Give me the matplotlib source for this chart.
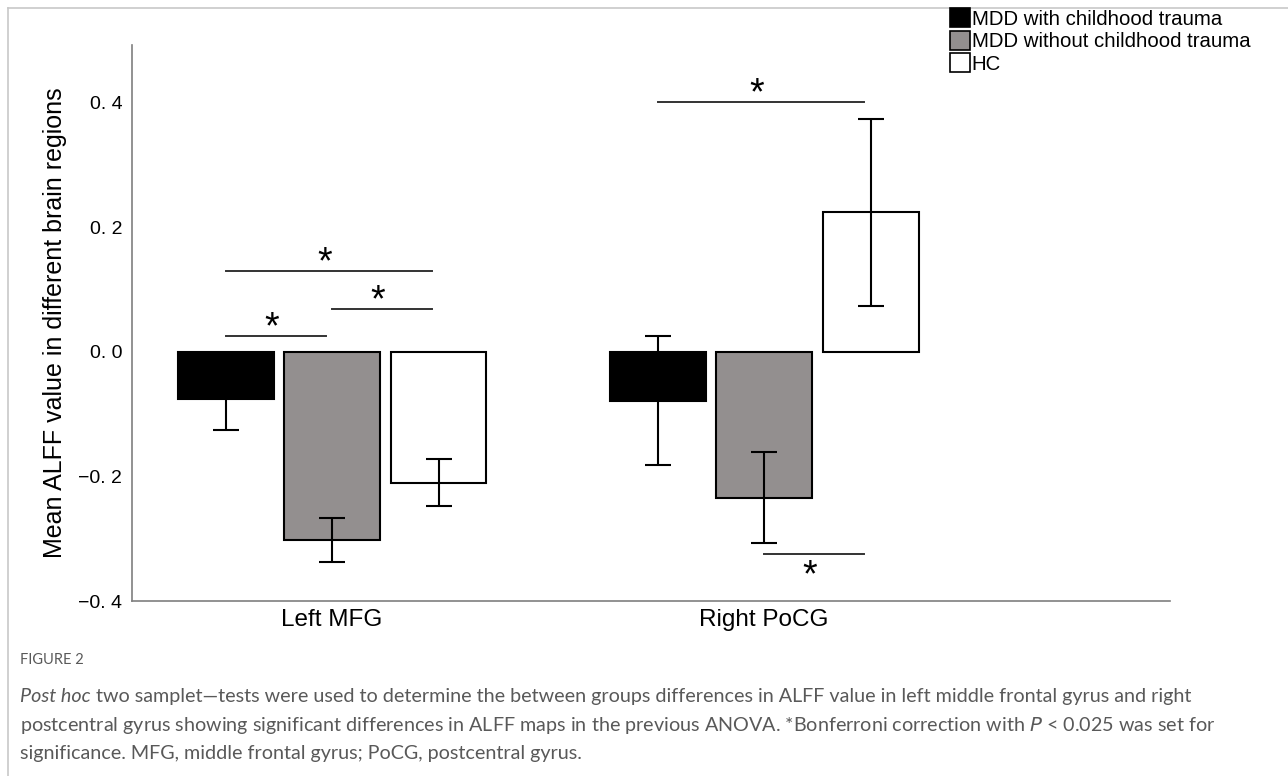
import numpy as np
import matplotlib
matplotlib.use('Agg')
import matplotlib.pyplot as plt
from matplotlib.patches import Patch
from matplotlib.ticker import FixedLocator, FuncFormatter

# Data
regions = ['Left MFG', 'Right PoCG']
groups = ['MDD with childhood trauma', 'MDD without childhood trauma', 'HC']
means = {
    'MDD with childhood trauma': [-0.075, -0.078],
    'MDD without childhood trauma': [-0.302, -0.234],
    'HC': [-0.210, 0.224],
}
errors = {
    'MDD with childhood trauma': [0.050, 0.104],
    'MDD without childhood trauma': [0.036, 0.073],
    'HC': [0.038, 0.150],
}
colors = ['#000000', '#938f8f', '#ffffff']
y_ticks = [-0.4, -0.2, 0.0, 0.2, 0.4]

# significance brackets: (region index, bar from, bar to, y level, star above?)
brackets = [
    (0, 0, 2, 0.130, True),
    (0, 1, 2, 0.069, True),
    (0, 0, 1, 0.026, True),
    (1, 0, 2, 0.402, True),
    (1, 1, 2, -0.325, False),
]

plt.rcParams['font.family'] = ['Liberation Sans', 'DejaVu Sans']

fig = plt.figure(figsize=(12.88, 7.76), dpi=100)
ax = fig.add_axes([0.1025, 0.2255, 0.806, 0.7165])

x = np.arange(len(regions))
width = 0.222
step = 0.2465
offsets = [(i - 1) * step for i in range(len(groups))]

for i, g in enumerate(groups):
    xpos = x + offsets[i]
    ax.bar(xpos, means[g], width, color=colors[i], edgecolor='black', linewidth=1.5, zorder=2)
    ax.errorbar(xpos, means[g], yerr=errors[g], fmt='none', ecolor='black',
                elinewidth=1.5, capsize=9.5, capthick=1.5, zorder=3)

# significance lines and stars
for r, a, b, y, above in brackets:
    x1 = x[r] + offsets[a]
    x2 = x[r] + offsets[b] - 0.015
    ax.plot([x1, x2], [y, y], color='#333333', lw=1.4, zorder=3)
    xm = (x1 + x2) / 2 - 0.01
    ystar = y - 0.004 if above else y - 0.052
    ax.text(xm, ystar, '*', ha='center', va='baseline', fontsize=27)

ax.set_xlim(-0.463, 1.940)
ax.set_ylim(-0.4, 0.493)
ax.yaxis.set_major_locator(FixedLocator(y_ticks))
ax.yaxis.set_major_formatter(FuncFormatter(lambda v, p: ('%.1f' % v).replace('.', '. ').replace('-', '\u2212')))
ax.set_xticks(x)
ax.set_xticklabels(regions, fontsize=17.5)
ax.tick_params(axis='both', length=0)
ax.tick_params(axis='y', labelsize=14, pad=7)
ax.tick_params(axis='x', pad=6)
for s in ['top', 'right']:
    ax.spines[s].set_visible(False)
for s in ['left', 'bottom']:
    ax.spines[s].set_color('#7f7f7f')
    ax.spines[s].set_linewidth(1.2)
ax.set_ylabel('Mean ALFF value in different brain regions', fontsize=18, labelpad=8)

handles = [Patch(facecolor=c, edgecolor='black', linewidth=1.2) for c in colors]
fig.legend(handles, groups, loc='upper left', bbox_to_anchor=(942 / 1288, 1 - 0 / 776),
           frameon=False, fontsize=14.7, handlelength=0.95, handleheight=1.05,
           handletextpad=0.1, labelspacing=0.1, borderaxespad=0)

# page frame lines (top and left)
fig.add_artist(plt.Line2D([8 / 1288, 1], [1 - 8 / 776, 1 - 8 / 776], color='#c8c8c8', lw=1.2))
fig.add_artist(plt.Line2D([8 / 1288, 8 / 1288], [0, 1 - 8 / 776], color='#c8c8c8', lw=1.2))

# caption
cap_font = ['Lato', 'DejaVu Sans']
cap_color = '#595959'
cap_size = 14.2
fig.text(20 / 1288, 1 - 660 / 776, 'FIGURE 2', fontsize=10.5, color=cap_color, va='center',
         family=cap_font)
t = fig.text(20 / 1288, 1 - 702 / 776, 'Post hoc', fontsize=cap_size, color=cap_color,
             va='baseline', style='italic', family=cap_font)
ax.annotate(' two samplet\u2014tests were used to determine the between groups differences in ALFF value in left middle frontal gyrus and right',
            xy=(1, 0), xycoords=t, va='bottom', ha='left', fontsize=cap_size, color=cap_color,
            family=cap_font, annotation_clip=False)
fig.text(20 / 1288, 1 - 731 / 776,
         'postcentral gyrus showing significant differences in ALFF maps in the previous ANOVA. *Bonferroni correction with $\\it{P}$ < 0.025 was set for',
         fontsize=cap_size, color=cap_color, va='baseline', family=cap_font)
fig.text(20 / 1288, 1 - 759 / 776,
         'significance. MFG, middle frontal gyrus; PoCG, postcentral gyrus.',
         fontsize=cap_size, color=cap_color, va='baseline', family=cap_font)

fig.savefig('out.png', dpi=100)
